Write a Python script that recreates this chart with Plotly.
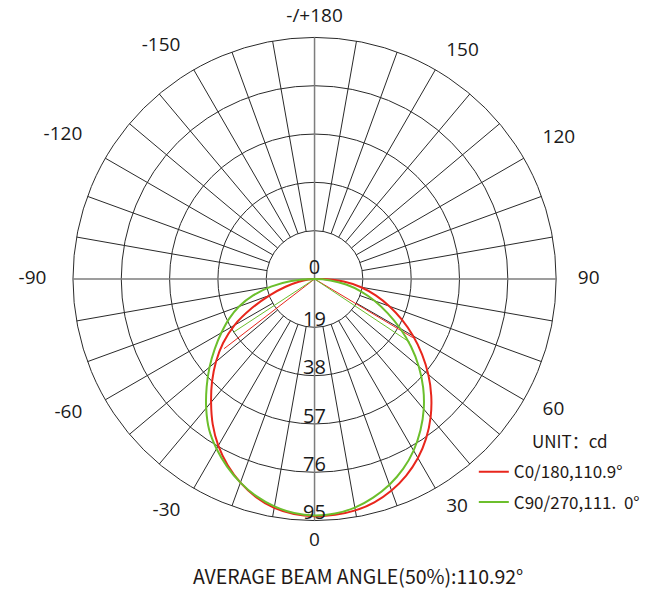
import plotly.graph_objects as go

# ---- data ----
red_theta = [-90, -85, -80, -75, -70, -65, -60, -55, -50, -45, -40, -35, -30, -25, -20, -15, -10, -5,
             0, 5, 10, 15, 20, 25, 30, 35, 40, 45, 50, 55, 60, 65, 70, 75, 80, 85, 90, 95]
red_r = [0, 2.5, 6.3, 11.8, 18.8, 27.3, 36.4, 43.9, 50.6, 57.0, 63.3, 69.8, 75.7, 80.8, 85.2, 88.8, 91.4, 92.8,
         93.3, 93.1, 92.4, 90.9, 88.5, 85.3, 81.3, 76.5, 71.0, 64.9, 58.4, 51.6, 44.7, 37.9, 31.3, 24.9,
         18.6, 11.5, 3.5, 0]

green_theta = [-90, -85, -80, -75, -70, -65, -60, -55, -50, -45, -40, -35, -30, -25, -20, -15, -10, -5,
               0, 5, 10, 15, 20, 25, 30, 35, 40, 45, 50, 55, 60, 65, 70, 75, 80, 85, 90]
green_r = [0, 9.2, 17.4, 25.0, 31.6, 37.1, 42.3, 47.9, 53.9, 60.0, 66.3, 72.3, 77.1, 81.4, 85.2, 88.4, 90.8,
           92.4, 93.0, 92.6, 91.3, 89.0, 86.1, 82.4, 77.9, 72.6, 66.8, 60.4, 53.5, 46.3, 38.9, 31.7, 25.2,
           19.0, 12.6, 6.3, 0]

red_beam_theta = [-52.4, 59.2]
red_beam_r = [44.9, 45.0]
green_beam_theta = [-56.7, 56.4]
green_beam_r = [38.1, 45.0]

radial_ticks = [19, 38, 57, 76, 95]
radial_labels = ["0", "19", "38", "57", "76", "95"]
radial_label_r = [0, 19, 38, 57, 76, 95]

angle_tickvals = [0, 30, 60, 90, 120, 150, 180, -150, -120, -90, -60, -30]
angle_ticktext = ["0", "30", "60", "90", "120", "150", "-/+180", "-150", "-120", "-90", "-60", "-30"]

series_names = ["C0/180,110.9°", "C90/270,111.  0°"]
series_colors = ["#e8261c", "#6cbf2c"]
r_max = 95
r_axis_max = 108      # extra room so the angle labels can sit outside the outer ring
inner_r = 19

# ---- geometry (pixels) ----
W, H = 645, 590
cx, cy = 319, 279
ring_px = 245                       # outer ring radius in px
k = ring_px / r_max                 # px per cd
R_px = k * r_axis_max

fig = go.Figure()

# spokes every 10 degrees (from inner ring to outer ring)
sp_r, sp_t = [], []
for a in range(-170, 181, 10):
    if a % 90 != 0:
        sp_r += [inner_r, r_max, None]
        sp_t += [a, a, None]
fig.add_trace(go.Scatterpolar(r=sp_r, theta=sp_t, mode="lines",
                              line=dict(color="#2a2a2a", width=1), showlegend=False,
                              hoverinfo="skip", connectgaps=False))
# cross through centre
fig.add_trace(go.Scatterpolar(r=[r_max, 0, r_max, None, r_max, 0, r_max],
                              theta=[90, 0, -90, None, 0, 0, 180], mode="lines",
                              line=dict(color="#7d7d7d", width=1.5), showlegend=False,
                              hoverinfo="skip", connectgaps=False))

# beam-angle lines
fig.add_trace(go.Scatterpolar(r=[red_beam_r[0], 0, red_beam_r[1]],
                              theta=[red_beam_theta[0], 0, red_beam_theta[1]], mode="lines",
                              line=dict(color=series_colors[0], width=1), showlegend=False,
                              hoverinfo="skip"))
fig.add_trace(go.Scatterpolar(r=[green_beam_r[0], 0, green_beam_r[1]],
                              theta=[green_beam_theta[0], 0, green_beam_theta[1]], mode="lines",
                              line=dict(color=series_colors[1], width=1), showlegend=False,
                              hoverinfo="skip"))

# curves
fig.add_trace(go.Scatterpolar(r=red_r, theta=red_theta, mode="lines", name=series_names[0],
                              line=dict(color=series_colors[0], width=2, shape="spline", smoothing=1),
                              legendgroup="a"))
fig.add_trace(go.Scatterpolar(r=green_r, theta=green_theta, mode="lines", name=series_names[1],
                              line=dict(color=series_colors[1], width=2, shape="spline", smoothing=1),
                              legendgroup="b"))

# radial labels (placed just above each ring)
lab_shift = 1.5
fig.add_trace(go.Scatterpolar(r=[v + lab_shift if v > 0 else 0 for v in radial_label_r],
                              theta=[0] * len(radial_label_r), mode="text",
                              text=radial_labels, textposition="top center", cliponaxis=False,
                              textfont=dict(family="Open Sans", size=20, color="#1a1a1a"),
                              showlegend=False, hoverinfo="skip"))

# angular labels outside the outer ring
def _pos(a):
    if a == 0:
        return "bottom center"
    if a == 180:
        return "top center"
    side = "right" if a > 0 else "left"
    if abs(a) == 120:
        return "top " + side
    return "middle " + side

def _dist(a):
    if a in (0, 180):
        return 256 / k
    return (267 if a > 0 else 272) / k

fig.add_trace(go.Scatterpolar(r=[_dist(a) for a in angle_tickvals], theta=angle_tickvals,
                              mode="text", text=angle_ticktext,
                              textposition=[_pos(a) for a in angle_tickvals], cliponaxis=False,
                              textfont=dict(family="Open Sans", size=19, color="#1a1a1a"),
                              showlegend=False, hoverinfo="skip"))

fig.update_layout(
    width=W, height=H,
    margin=dict(l=0, r=0, t=0, b=0),
    paper_bgcolor="white",
    polar=dict(
        domain=dict(x=[(cx - R_px) / W, (cx + R_px) / W],
                    y=[(H - cy - R_px) / H, (H - cy + R_px) / H]),
        bgcolor="white",
        radialaxis=dict(range=[0, r_axis_max], tickvals=radial_ticks, showticklabels=False,
                        ticks="", showline=False, gridcolor="#2a2a2a", gridwidth=1),
        angularaxis=dict(rotation=-90, direction="counterclockwise", showgrid=False,
                         showticklabels=False, ticks="", showline=False),
    ),
    legend=dict(x=0.745, y=0.230, xanchor="left", yanchor="top",
                font=dict(family="Noto Sans CJK SC", size=17, color="#231815"),
                bgcolor="rgba(0,0,0,0)", tracegroupgap=5, itemwidth=30),
    annotations=[
        dict(text="UNIT：cd", x=538 / W, y=(H - 440) / H, xref="paper", yref="paper",
             xanchor="left", yanchor="middle", showarrow=False,
             font=dict(family="Noto Sans CJK SC", size=17, color="#231815")),
        dict(text="AVERAGE BEAM ANGLE(50%):110.92°", x=363 / W, y=(H - 575) / H,
             xref="paper", yref="paper", xanchor="center", yanchor="middle", showarrow=False,
             font=dict(family="Noto Sans CJK SC", size=19.5, color="#231815")),
    ],
)

fig.write_html("out.html", config={"displayModeBar": False},
               post_script="document.body.style.margin='0';")
